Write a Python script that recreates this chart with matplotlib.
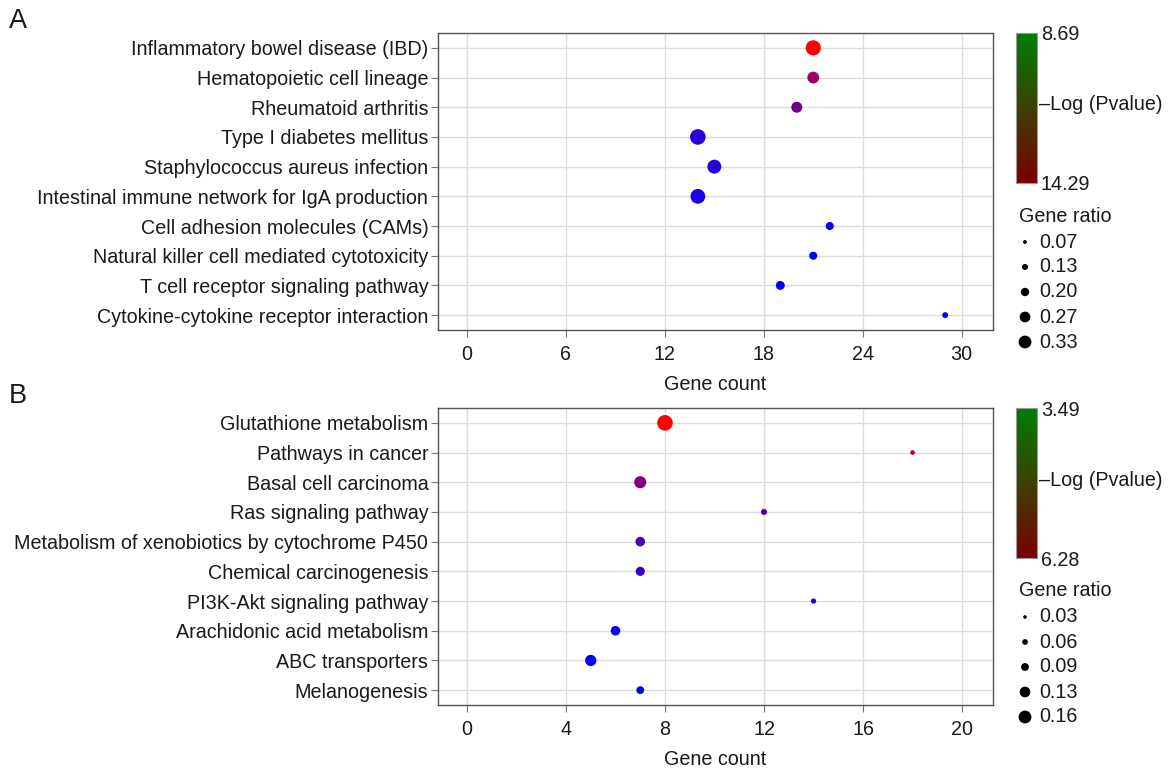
import numpy as np
import matplotlib
matplotlib.use("Agg")
import matplotlib.pyplot as plt
from matplotlib.colors import LinearSegmentedColormap, Normalize

plt.rcParams['font.family'] = ['Liberation Sans', 'DejaVu Sans']

# ---------------- data ----------------
a_terms = ["Inflammatory bowel disease (IBD)", "Hematopoietic cell lineage",
           "Rheumatoid arthritis", "Type I diabetes mellitus",
           "Staphylococcus aureus infection",
           "Intestinal immune network for IgA production",
           "Cell adhesion molecules (CAMs)",
           "Natural killer cell mediated cytotoxicity",
           "T cell receptor signaling pathway",
           "Cytokine-cytokine receptor interaction"]
a_count = [21, 21, 20, 14, 15, 14, 22, 21, 19, 29]
a_ratio = [0.32, 0.24, 0.22, 0.33, 0.29, 0.31, 0.15, 0.15, 0.17, 0.10]
a_logp = [14.29, 12.1, 11.2, 9.6, 9.55, 9.25, 8.8, 8.75, 8.72, 8.69]
a_ticks = [0, 6, 12, 18, 24, 30]
a_cbar = [8.69, 14.29]
a_legend = [0.07, 0.13, 0.20, 0.27, 0.33]

b_terms = ["Glutathione metabolism", "Pathways in cancer",
           "Basal cell carcinoma", "Ras signaling pathway",
           "Metabolism of xenobiotics by cytochrome P450",
           "Chemical carcinogenesis", "PI3K-Akt signaling pathway",
           "Arachidonic acid metabolism", "ABC transporters", "Melanogenesis"]
b_count = [8, 18, 7, 12, 7, 7, 14, 6, 5, 7]
b_ratio = [0.16, 0.034, 0.12, 0.05, 0.09, 0.085, 0.04, 0.09, 0.11, 0.07]
b_logp = [6.28, 5.7, 4.95, 4.4, 4.3, 4.05, 3.8, 3.6, 3.5, 3.52]
b_ticks = [0, 4, 8, 12, 16, 20]
b_cbar = [3.49, 6.28]
b_legend = [0.03, 0.06, 0.09, 0.13, 0.16]

W, H = 1175, 768
fig = plt.figure(figsize=(W / 100, H / 100), dpi=100)

dot_cmap = LinearSegmentedColormap.from_list("br", ["#0000ff", "#ff0000"])
bar_cmap = LinearSegmentedColormap.from_list("gr", ["#007f00", "#7a0000"])

FS = 14.2
TXT = '#1a1a1a'


def px2fig(x0, y0, x1, y1):
    return [x0 / W, 1 - y1 / H, (x1 - x0) / W, (y1 - y0) / H]


def diam_pt(r, rmax):
    d_px = 1.8 + 13.8 * (r / rmax)
    return d_px * 0.72


def panel(top, terms, count, ratio, logp, ticks, xlim, cbar, legend_vals, letter):
    ax = fig.add_axes(px2fig(438, top, 993, top + 297))
    n = len(terms)
    y = np.arange(n, 0, -1)
    rmax = max(legend_vals)
    norm = Normalize(min(cbar), max(cbar))
    s = [diam_pt(r, rmax) ** 2 for r in ratio]
    ax.scatter(count, y, s=s, c=logp, cmap=dot_cmap, norm=norm,
               edgecolors='none', zorder=3)
    ax.set_xlim(*xlim)
    ax.set_ylim(0.5, n + 0.5)
    ax.set_yticks(y)
    ax.set_yticklabels(terms, fontsize=FS, color=TXT)
    ax.set_xticks(ticks)
    ax.set_xticklabels([str(t) for t in ticks], fontsize=FS, color=TXT)
    ax.set_xlabel("Gene count", fontsize=FS, color=TXT, labelpad=8)
    ax.grid(True, color='#dcdcdc', linewidth=1.0, zorder=0)
    ax.set_axisbelow(True)
    for sp in ax.spines.values():
        sp.set_color('#555555')
        sp.set_linewidth(1.0)
    ax.tick_params(axis='y', length=5, width=0.8, color='#777777', pad=2)
    ax.tick_params(axis='x', length=5, width=0.8, color='#777777', pad=6)

    # colorbar
    cax = fig.add_axes(px2fig(1016, top, 1037, top + 150))
    grad = np.linspace(0, 1, 256).reshape(-1, 1)
    cax.imshow(grad, aspect='auto', cmap=bar_cmap, extent=[0, 1, 1, 0])
    cax.set_xticks([])
    cax.set_yticks([])
    for sp in cax.spines.values():
        sp.set_color('#999999')
        sp.set_linewidth(0.8)
    cx = 1041 / W
    fig.text(cx, 1 - (top + 2) / H, f"{cbar[0]:.2f}", fontsize=FS, va='center', ha='left', color=TXT)
    fig.text(cx, 1 - (top + 152) / H, f"{cbar[1]:.2f}", fontsize=FS, va='center', ha='left', color=TXT)
    fig.text(1039 / W, 1 - (top + 72) / H, "\u2013Log (Pvalue)", fontsize=FS, va='center', ha='left', color=TXT)

    # size legend
    ly0 = top + 183
    fig.text(1019 / W, 1 - ly0 / H, "Gene ratio", fontsize=FS, va='center', ha='left', color=TXT)
    lax = fig.add_axes(px2fig(1010, ly0 + 10, 1040, ly0 + 140))
    lax.set_xlim(0, 30)
    lax.set_ylim(130, 0)
    lax.axis('off')
    ys = [16 + 25 * i for i in range(len(legend_vals))]
    ls = [(diam_pt(v, rmax) * 0.82) ** 2 for v in legend_vals]
    lax.scatter([15] * len(legend_vals), ys, s=ls, c='black', edgecolors='none', clip_on=False)
    for v, yy in zip(legend_vals, ys):
        fig.text(1039 / W, 1 - (ly0 + 10 + yy) / H, f"{v:.2f}", fontsize=FS, va='center', ha='left', color=TXT)

    fig.text(9 / W, 1 - (top - 12) / H, letter, fontsize=19.5, va='center', ha='left', color=TXT)


panel(33, a_terms, a_count, a_ratio, a_logp, a_ticks, (-1.76, 31.9), a_cbar, a_legend, "A")
panel(408, b_terms, b_count, b_ratio, b_logp, b_ticks, (-1.17, 21.25), b_cbar, b_legend, "B")

fig.savefig("out.png", dpi=100)
